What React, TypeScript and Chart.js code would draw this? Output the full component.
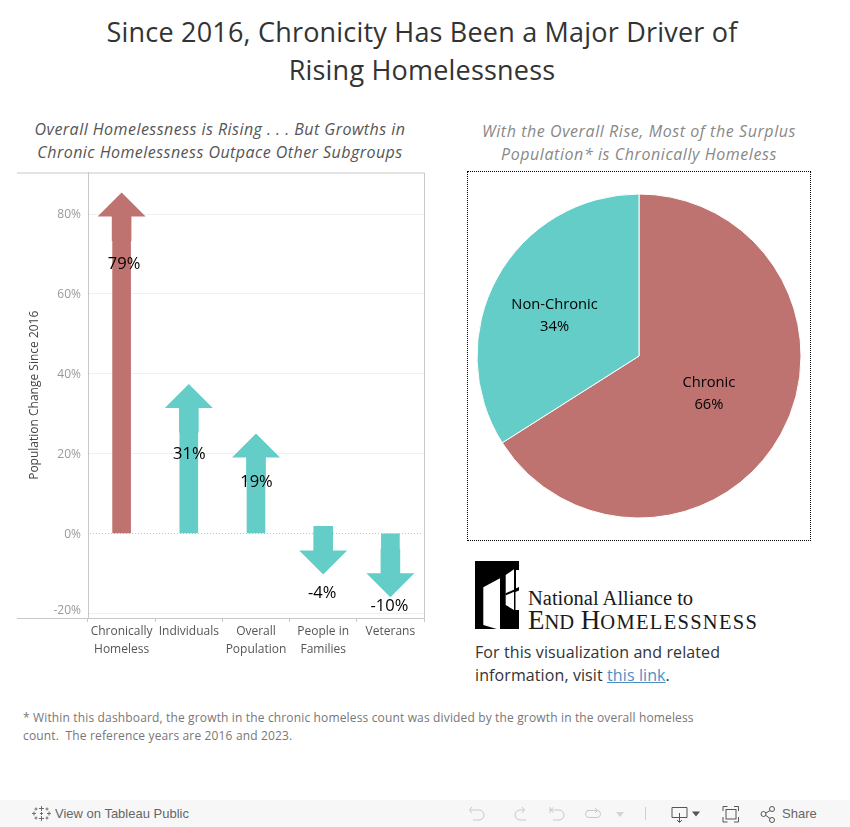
import React, { useEffect, useRef } from "react";
import { Chart, registerables } from "chart.js";

Chart.register(...registerables);

const FONT = '"Open Sans", sans-serif';
const RED = "#bf7370";
const TEAL = "#64cdc8";

const titleLines = ["Since 2016, Chronicity Has Been a Major Driver of", "Rising Homelessness"];
const leftSubtitle = ["Overall Homelessness is Rising . . . But Growths in", "Chronic Homelessness Outpace Other Subgroups"];
const rightSubtitle = ["With the Overall Rise, Most of the Surplus", "Population* is Chronically Homeless"];
const footnote = [
  "* Within this dashboard, the growth in the chronic homeless count was divided by the growth in the overall homeless",
  "count.  The reference years are 2016 and 2023.",
];

const categories = [["Chronically", "Homeless"], "Individuals", ["Overall", "Population"], ["People in", "Families"], "Veterans"];
const changeValues = [79.4, 31.4, 19, -4.3, -10];
const changeLabels = ["79%", "31%", "19%", "-4%", "-10%"];
const arrowColors = [RED, TEAL, TEAL, TEAL, TEAL];
const labelShiftY = [48, 46, 25, 43, 33];
const labelShiftX = [2.5, 0.5, 0.5, -1, -1];
const yTicks = [-20, 0, 20, 40, 60, 80];

const pieCategories = ["Chronic", "Non-Chronic"];
const pieValues = [66, 34];
const pieColors = [RED, TEAL];
const pieLabelText = ["66%", "34%"];
const pieLabelShift = [[-11, -7], [-3.5, 4]];

const arrowPlugin = {
  id: "arrows",
  beforeDatasetsDraw(chart: any) {
    const { ctx, chartArea: a, scales } = chart;
    const z = Math.round(scales.y.getPixelForValue(0)) + 0.5;
    ctx.save();
    ctx.strokeStyle = "#c4c4c4";
    ctx.lineWidth = 1;
    ctx.setLineDash([1, 2]);
    ctx.beginPath();
    ctx.moveTo(a.left + 2, z);
    ctx.lineTo(a.right - 2, z);
    ctx.stroke();
    ctx.setLineDash([]);
    ctx.strokeStyle = "#c8c8c8";
    ctx.beginPath();
    ctx.moveTo(1, a.top + 0.5);
    ctx.lineTo(a.right + 0.5, a.top + 0.5);
    ctx.lineTo(a.right + 0.5, a.bottom + 0.5);
    ctx.lineTo(1, a.bottom + 0.5);
    ctx.stroke();
    ctx.restore();
  },
  afterDatasetsDraw(chart: any) {
    const { ctx } = chart;
    const bars = chart.getDatasetMeta(0).data;
    ctx.save();
    bars.forEach((bar: any, i: number) => {
      const dir = changeValues[i] >= 0 ? 1 : -1;
      const x = bar.x;
      const base = bar.y;
      ctx.fillStyle = arrowColors[i];
      ctx.beginPath();
      ctx.moveTo(x - 24, base);
      ctx.lineTo(x, base - dir * 24);
      ctx.lineTo(x + 24, base);
      ctx.lineTo(x + 9.8, base);
      ctx.lineTo(x + 9.8, base + dir * 24.5);
      ctx.lineTo(x - 9.8, base + dir * 24.5);
      ctx.lineTo(x - 9.8, base);
      ctx.closePath();
      ctx.fill();
    });
    ctx.fillStyle = "#000";
    ctx.font = `16.5px ${FONT}`;
    ctx.textAlign = "center";
    ctx.textBaseline = "middle";
    bars.forEach((bar: any, i: number) => {
      ctx.fillText(changeLabels[i], bar.x + labelShiftX[i], bar.y + labelShiftY[i]);
    });
    ctx.restore();
  },
};

const pieLabelPlugin = {
  id: "pieLabels",
  afterDatasetsDraw(chart: any) {
    const { ctx } = chart;
    const arcs = chart.getDatasetMeta(0).data;
    ctx.save();
    ctx.fillStyle = "#000";
    ctx.font = `14.7px ${FONT}`;
    ctx.textAlign = "center";
    ctx.textBaseline = "middle";
    arcs.forEach((arc: any, i: number) => {
      const mid = (arc.startAngle + arc.endAngle) / 2;
      const r = arc.outerRadius * 0.57;
      const x = arc.x + Math.cos(mid) * r + pieLabelShift[i][0];
      const y = arc.y + Math.sin(mid) * r + pieLabelShift[i][1];
      ctx.fillText(pieCategories[i], x, y - 11);
      ctx.fillText(pieLabelText[i], x, y + 11);
    });
    ctx.restore();
  },
};

function Text({ left, top, width, lines, size, color, align = "left", lh, italic, weight, spacing, font }: any) {
  return (
    <div
      style={{
        position: "absolute",
        left,
        top,
        width,
        fontFamily: font || FONT,
        fontSize: size,
        color,
        textAlign: align,
        lineHeight: `${lh}px`,
        fontStyle: italic ? "italic" : "normal",
        fontWeight: weight || 400,
        letterSpacing: spacing || 0,
        whiteSpace: "nowrap",
      }}
    >
      {lines.map((l: string, i: number) => (
        <div key={i} style={{ whiteSpace: "pre" }}>{l}</div>
      ))}
    </div>
  );
}

function Logo() {
  return (
    <>
      <svg style={{ position: "absolute", left: 475, top: 561 }} width={44} height={68} viewBox="475 561 44 68">
        <rect x={475} y={561} width={44} height={68} fill="#000" />
        <polygon points="483.3,587.3 500,578.3 500,629 496.7,629 483.3,625" fill="#fff" />
        <polygon points="505.7,575 514,569.3 514,610 505.7,605" fill="#fff" />
        <polygon points="516,570 519,570 519,587 516,588.5" fill="#fff" />
        <polygon points="515.5,592 519,590.5 519,610 515.5,610" fill="#fff" />
        <line x1={505.7} y1={594.3} x2={519.5} y2={588.3} stroke="#000" strokeWidth={2} />
      </svg>
      <div style={{ position: "absolute", left: 528, top: 586, fontFamily: '"Liberation Serif", serif', fontSize: 20.5, lineHeight: "24px", color: "#1a1a1a", whiteSpace: "nowrap" }}>
        National Alliance to
      </div>
      <div style={{ position: "absolute", left: 528, top: 604.5, fontFamily: '"Liberation Serif", serif', fontSize: 27, lineHeight: "30px", color: "#1a1a1a", whiteSpace: "nowrap" }}>
        E<span style={{ fontSize: 20.5 }}>ND</span> H<span style={{ fontSize: 20.5, letterSpacing: 1.3 }}>OMELESSNESS</span>
      </div>
    </>
  );
}

function Toolbar() {
  const s = { stroke: "#c9c9c9", fill: "none", strokeWidth: 1 };
  const d = { stroke: "#555", fill: "none", strokeWidth: 1 };
  return (
    <div style={{ position: "absolute", left: 0, top: 800, width: 850, height: 27, background: "#f7f7f7" }}>
      <svg style={{ position: "absolute", left: 0, top: 0 }} width={850} height={27} viewBox="0 800 850 27">
        <g stroke="#6e6e6e" strokeWidth={1} fill="none">
          <path d="M41.5 806v5M39 808.5h5M41.5 816v5M39 818.5h5M34 811.5v4M32 813.5h4M49 811.5v4M47 813.5h4M36 807.5v3M34.5 809h3M47 807.5v3M45.5 809h3M36 816.5v3M34.5 818h3M47 816.5v3M45.5 818h3M40 813.5h3M41.5 812v3" />
        </g>
        <path d="M470 810h9a5 5 0 0 1 0 10h-6M472 807l-2.500 3 2.500 3" {...s} />
        <path d="M511 810h-4a5 5 0 0 0 0 10h6M509 807l2.500 3-2.500 3" transform="translate(13 0)" {...s} />
        <path d="M551 810h9a5 5 0 0 1 0 10h-6M551 807v6M554 807.500l-2 2.500 2 2.500" transform="translate(-1 0)" {...s} />
        <path d="M590 809.500h10a3.500 3.500 0 0 1 0 7h-8a3.500 3.500 0 0 1 0-7M598 807l2.500 2.500-2.500 2.500" transform="translate(-3 1)" {...s} />
        <polygon points="616,812 624,812 620,817" fill="#d4d4d4" />
        <line x1={645.5} y1={807} x2={645.5} y2={820} stroke="#d0d0d0" />
        <path d="M672 807.500h15v10h-15zM679.500 813v9M677 820l2.500 2.500 2.500-2.500" {...d} />
        <polygon points="692,811.500 700,811.500 696,816.500" fill="#555" />
        <path d="M723 811v-4.500h4.500M734 806.500h4.500v4.500M738.500 817v5h-4.500M727.500 822h-4.500v-5" {...d} />
        <rect x={726} y={809.500} width={10} height={9.500} {...d} />
        <circle cx={763.500} cy={814} r={2.500} {...d} />
        <circle cx={772} cy={809} r={2.500} {...d} />
        <circle cx={772} cy={820} r={2.500} {...d} />
        <path d="M766 813l4-2.500M766 815.500l4 3" {...d} />
      </svg>
      <div style={{ position: "absolute", left: 55, top: 0, lineHeight: "27px", fontFamily: '"Liberation Sans", sans-serif', fontSize: 13, color: "#666", whiteSpace: "nowrap" }}>View on Tableau Public</div>
      <div style={{ position: "absolute", left: 782, top: 0, lineHeight: "27px", fontFamily: '"Liberation Sans", sans-serif', fontSize: 13, color: "#666", whiteSpace: "nowrap" }}>Share</div>
    </div>
  );
}

export default function App() {
  const barRef = useRef<HTMLCanvasElement>(null);
  const pieRef = useRef<HTMLCanvasElement>(null);

  useEffect(() => {
    document.body.style.margin = "0";
    const bar = new Chart(barRef.current!, {
      type: "bar",
      data: {
        labels: categories as any,
        datasets: [{ data: changeValues, backgroundColor: arrowColors, barThickness: 18 }],
      },
      plugins: [arrowPlugin as any],
      options: {
        animation: false,
        responsive: false,
        layout: { padding: { top: 0.5, right: 2, bottom: 0, left: 0 } },
        plugins: { legend: { display: false }, tooltip: { enabled: false } },
        scales: {
          x: {
            grid: { drawOnChartArea: false, color: "#c8c8c8", tickLength: 4 },
            border: { display: false },
            ticks: {
              autoSkip: false,
              maxRotation: 0,
              padding: 0.5,
              color: "#555",
              font: { family: FONT, size: 12, lineHeight: "18px" },
            },
            afterFit: (s: any) => { s.height = 48; s.paddingLeft = 0; s.paddingRight = 0; },
          },
          y: {
            min: -21.2,
            max: 90.4,
            bounds: "data",
            afterBuildTicks: (s: any) => { s.ticks = yTicks.map((value) => ({ value })); },
            afterFit: (s: any) => { s.width = 72; s.paddingTop = 0; s.paddingBottom = 0; },
            grid: {
              drawTicks: false,
              color: (c: any) => (c.tick && c.tick.value === 0 ? "rgba(0,0,0,0)" : "#f0f0f0"),
            },
            border: { color: "#c8c8c8" },
            title: {
              display: true,
              text: "Population Change Since 2016",
              color: "#444",
              font: { family: FONT, size: 12 },
              padding: { top: 11, bottom: 0 },
            },
            ticks: {
              padding: 7,
              labelOffset: 1,
              color: "#999",
              font: (c: any) => ({ family: FONT, size: 12, lineHeight: c.tick && c.tick.value < 0 ? "8px" : "14px" }),
              callback: (v: any) => (v < 0 ? [`${v}%`, ""] : `${v}%`),
            },
          },
        },
      } as any,
    });
    const pie = new Chart(pieRef.current!, {
      type: "pie",
      data: {
        labels: pieCategories,
        datasets: [{ data: pieValues, backgroundColor: pieColors, borderColor: "#fff", borderWidth: 1 }],
      },
      plugins: [pieLabelPlugin as any],
      options: {
        animation: false,
        responsive: false,
        radius: 162,
        plugins: { legend: { display: false }, tooltip: { enabled: false } },
      } as any,
    });
    return () => {
      bar.destroy();
      pie.destroy();
    };
  }, []);

  return (
    <div style={{ position: "relative", width: 850, height: 827, overflow: "hidden", background: "#fff" }}>
      <Text left={0} top={13} width={844} lines={titleLines} size={27} color="#333" align="center" lh={38} spacing={0.2} weight={500} />
      <Text left={0} top={118} width={440} lines={leftSubtitle} size={16} color="#555" align="center" lh={23} italic spacing={0.46} />
      <Text left={439} top={120} width={400} lines={rightSubtitle} size={16} color="#888" align="center" lh={23} italic spacing={0.57} />
      <canvas ref={barRef} width={410} height={494} style={{ position: "absolute", left: 16, top: 172, width: 410, height: 494 }} />
      <div style={{ position: "absolute", left: 467, top: 171, width: 342, height: 368, border: "1px dotted #000" }} />
      <canvas ref={pieRef} width={342} height={368} style={{ position: "absolute", left: 468, top: 172, width: 342, height: 368 }} />
      <Logo />
      <div style={{ position: "absolute", left: 475, top: 641, fontFamily: FONT, fontSize: 16, letterSpacing: 0.1, lineHeight: "23px", color: "#333", whiteSpace: "nowrap" }}>
        <div>For this visualization and related</div>
        <div>information, visit <span style={{ color: "#4b8fc4", textDecoration: "underline" }}>this link</span>.</div>
      </div>
      <Text left={23} top={709} width={800} lines={footnote} size={12} color="#777" lh={18} spacing={0.15} />
      <Toolbar />
    </div>
  );
}
